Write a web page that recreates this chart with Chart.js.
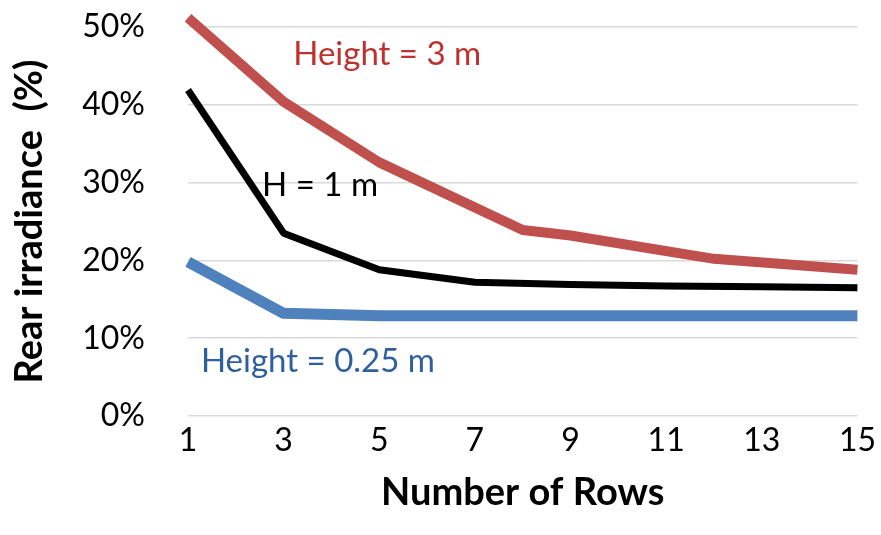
<!DOCTYPE html>
<html lang="en">
<head>
<meta charset="UTF-8">
<title>Rear irradiance vs rows</title>
<script src="https://cdn.jsdelivr.net/npm/chart.js"></script>
<style>
    html, body { margin: 0; padding: 0; background: #fff; }
    #wrap { width: 881px; height: 535px; }
</style>
</head>
<body>
<div id="wrap"><canvas id="chart"></canvas></div>
<script>
// values (rows -> rear irradiance %)
const redRows = [1, 3, 5, 8, 9, 12, 15];
const redVals = [51.2, 40.4, 32.6, 23.9, 23.2, 20.2, 18.8];
const blackRows = [1, 3, 5, 7, 9, 11, 13, 15];
const blackVals = [41.9, 23.5, 18.8, 17.2, 16.9, 16.7, 16.6, 16.5];
const blueRows = [1, 3, 5, 7, 9, 11, 13, 15];
const blueVals = [19.8, 13.2, 12.9, 12.9, 12.9, 12.9, 12.9, 12.9];
const xTicks = [1, 3, 5, 7, 9, 11, 13, 15];
const yTicks = [0, 10, 20, 30, 40, 50];

const FONT = "Lato, 'Open Sans', sans-serif";

function toPoints(xs, ys) {
    return xs.map((x, i) => ({ x: x, y: ys[i] }));
}

// text labels placed next to the lines
const labels = [
    { text: "Height = 3 m", x: 3.2, y: 46.5, color: "#C0312E" },
    { text: "H = 1 m", x: 2.55, y: 29.7, color: "#000000" },
    { text: "Height = 0.25 m", x: 1.27, y: 7.0, color: "#2E5F9E" }
];

const labelPlugin = {
    id: "lineLabels",
    afterDatasetsDraw(chart) {
        const ctx = chart.ctx;
        const xs = chart.scales.x, ys = chart.scales.y;
        ctx.save();
        ctx.font = "33px " + FONT;
        ctx.textAlign = "left";
        ctx.textBaseline = "middle";
        labels.forEach(l => {
            ctx.fillStyle = l.color;
            ctx.fillText(l.text, xs.getPixelForValue(l.x), ys.getPixelForValue(l.y));
        });
        ctx.restore();
    }
};

new Chart(document.getElementById("chart"), {
    type: "line",
    data: {
        datasets: [
            { label: "Height = 3 m", data: toPoints(redRows, redVals), borderColor: "#C0504D", borderWidth: 10, clip: false },
            { label: "H = 1 m", data: toPoints(blackRows, blackVals), borderColor: "#000000", borderWidth: 7, clip: false },
            { label: "Height = 0.25 m", data: toPoints(blueRows, blueVals), borderColor: "#4F81BD", borderWidth: 11, clip: false }
        ]
    },
    options: {
        responsive: true,
        maintainAspectRatio: false,
        animation: false,
        layout: { padding: { top: 27, right: 21, bottom: 0, left: 0 } },
        elements: {
            point: { radius: 0 },
            line: { tension: 0, borderCapStyle: "butt", borderJoinStyle: "round" }
        },
        plugins: {
            legend: { display: false },
            tooltip: { enabled: false }
        },
        scales: {
            x: {
                type: "linear",
                min: 1,
                max: 15,
                afterBuildTicks: s => { s.ticks = xTicks.map(v => ({ value: v })); },
                afterFit: s => { s.height = 119; },
                grid: { display: false, drawTicks: false },
                border: { display: false },
                ticks: { color: "#000", font: { family: FONT, size: 32 }, padding: 5, maxRotation: 0 },
                title: {
                    display: true,
                    text: "Number of Rows",
                    color: "#000",
                    font: { family: FONT, size: 38, weight: "bold" },
                    padding: { top: 0, bottom: 19 }
                }
            },
            y: {
                min: 0,
                max: 50,
                afterBuildTicks: s => { s.ticks = yTicks.map(v => ({ value: v })); },
                afterFit: s => { s.width = 188; },
                // invisible tick marks give the gap between labels and plot
                grid: { color: "#D9D9D9", lineWidth: 1.5, drawTicks: true, tickLength: 43, tickColor: "rgba(0,0,0,0)" },
                border: { display: false },
                ticks: { color: "#000", font: { family: FONT, size: 32 }, padding: 0, callback: v => v + "%" },
                title: {
                    display: true,
                    text: "Rear irradiance  (%)",
                    color: "#000",
                    font: { family: FONT, size: 38, weight: "bold" },
                    padding: { top: 7, bottom: 0 }
                }
            }
        }
    },
    plugins: [labelPlugin]
});
</script>
</body>
</html>
